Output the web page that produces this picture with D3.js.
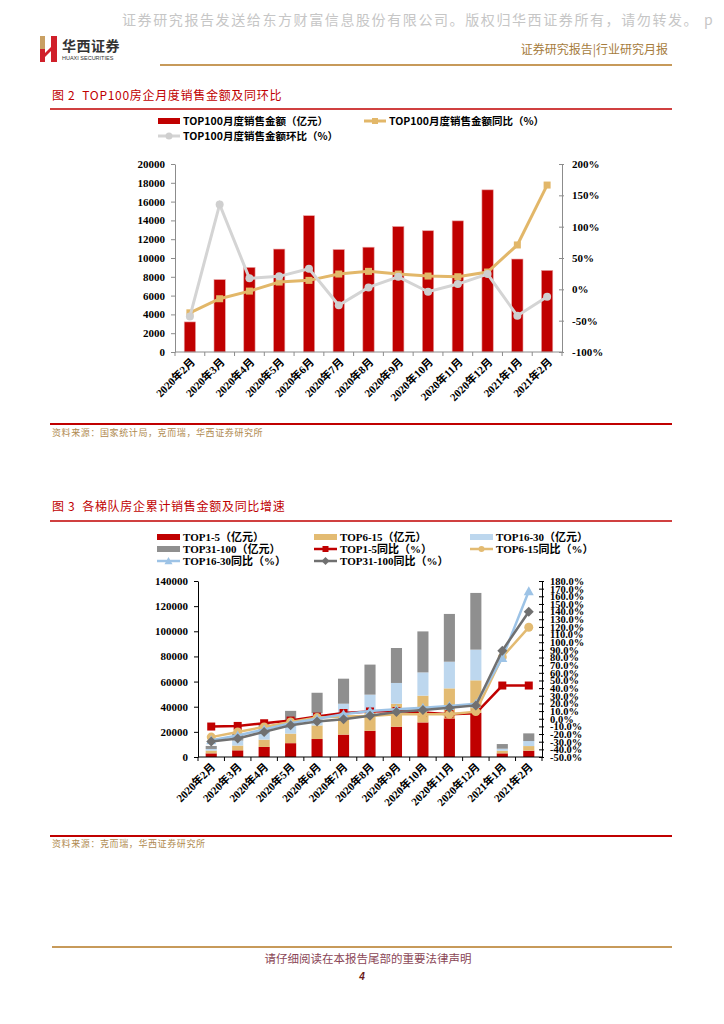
<!DOCTYPE html>
<html><head><meta charset="utf-8">
<script src="https://cdn.jsdelivr.net/npm/d3@7/dist/d3.min.js"></script>
<style>
body{margin:0;background:#fff;}
svg{display:block;}
</style></head>
<body>
<svg id="page" width="724" height="1024"></svg>
<script>
// ---------- data ----------
const months = ["2020年2月","2020年3月","2020年4月","2020年5月","2020年6月","2020年7月","2020年8月","2020年9月","2020年10月","2020年11月","2020年12月","2021年1月","2021年2月"];

// Figure 2
const top100Sales = [3200, 7700, 9000, 10950, 14500, 10900, 11150, 13350, 12900, 13950, 17250, 9890, 8680];
const top100Yoy   = [-37.5, -15, -2.8, 11.6, 14.3, 24.4, 28.7, 24.4, 21.2, 20.1, 27.6, 70.8, 166.4];
const top100Mom   = [-43.4, 135.4, 17.5, 20.7, 32.9, -25.3, 3, 20, -3.9, 8.4, 24.4, -42.3, -11.9];
const fig2LeftTicks  = [0,2000,4000,6000,8000,10000,12000,14000,16000,18000,20000];
const fig2RightTicks = [-100,-50,0,50,100,150,200];

// Figure 3
const top1_5    = [2900, 5300, 8000, 11000, 14300, 17800, 20800, 24100, 27500, 30700, 35200, 2900, 5000];
const top6_15   = [2200, 3800, 5800, 7600, 10800, 13500, 15800, 18300, 21300, 23900, 25800, 2100, 3700];
const top16_30  = [1300, 4000, 5700, 8400, 9900, 11100, 13000, 16500, 18500, 21200, 24400, 1600, 4000];
const top31_100 = [2400, 5500, 6500, 9700, 16100, 19900, 23900, 27800, 32600, 38000, 45100, 3700, 6100];
const yoy1_5    = [-10.2, -9.4, -5.9, -2.4, 2.8, 7.5, 9.5, 10, 8, 6, 7, 43.4, 43.4];
const yoy6_15   = [-24, -17.2, -10.7, -4.2, 1.5, 3, 3.6, 5.8, 5.8, 5.8, 9.3, 80.6, 119.5];
const yoy16_30  = [-28, -22, -14, -6, 0, 6, 10, 12.3, 14.5, 16.5, 19.6, 79.3, 166.5];
const yoy31_100 = [-29.6, -25.7, -17.2, -8.5, -3.7, -0.7, 4, 8.8, 11.4, 14.5, 17.4, 89, 139.8];
const fig3LeftTicks  = [0,20000,40000,60000,80000,100000,120000,140000];
const fig3RightTicks = d3.range(-50, 181, 10);

// ---------- styles ----------
const SERIF = '"Liberation Serif","Times New Roman","Noto Sans CJK SC",serif';
const CJK = '"Noto Sans CJK SC","Noto Sans",sans-serif';
const RED = "#c00000";

const svg = d3.select("#page");

// ---------- header ----------
svg.append("text").attr("x",122).attr("y",25)
  .attr("font-family",CJK).attr("font-size",14).attr("letter-spacing",1.6)
  .attr("fill","#c6c6c6")
  .text("证券研究报告发送给东方财富信息股份有限公司。版权归华西证券所有，请勿转发。 p");

const logo = svg.append("g");
logo.append("rect").attr("x",40).attr("y",36).attr("width",5).attr("height",13).attr("fill","#c9a063");
logo.append("rect").attr("x",40).attr("y",49).attr("width",5).attr("height",13).attr("fill","#d0202a");
logo.append("path").attr("d","M45,53 L52,46 L52,50 L45,57 Z").attr("fill","#d0202a");
logo.append("rect").attr("x",51).attr("y",36).attr("width",6).attr("height",26).attr("fill","#d0202a");
svg.append("text").attr("x",62).attr("y",51).attr("font-family",CJK).attr("font-weight","bold")
  .attr("font-size",14).attr("fill","#333").attr("letter-spacing",0.5).text("华西证券");
svg.append("text").attr("x",62).attr("y",60).attr("font-family","Liberation Sans, sans-serif")
  .attr("font-size",5.5).attr("fill","#333").text("HUAXI SECURITIES");

svg.append("text").attr("x",668).attr("y",54).attr("text-anchor","end")
  .attr("font-family",CJK).attr("font-size",12).attr("fill","#a67c3d")
  .text("证券研究报告|行业研究月报");
svg.append("line").attr("x1",160).attr("x2",672).attr("y1",65).attr("y2",65)
  .attr("stroke","#c79a5a").attr("stroke-width",2);

// ---------- figure titles and rules ----------
function title(y, txt){
  svg.append("text").attr("x",52).attr("y",y).attr("font-family",CJK).attr("font-size",12)
    .attr("letter-spacing",0.7).attr("fill",RED).text(txt);
}
function rule(y, color, w){
  svg.append("line").attr("x1",50).attr("x2",672).attr("y1",y).attr("y2",y)
    .attr("stroke",color).attr("stroke-width",w);
}
function source(y, txt){
  svg.append("text").attr("x",52).attr("y",y).attr("font-family",CJK).attr("font-size",9)
    .attr("letter-spacing",0.6).attr("fill","#b08a50").text(txt);
}
title(100, "图 2\u00a0\u00a0TOP100房企月度销售金额及同环比");
rule(109, RED, 1.5);
rule(424, RED, 2);
source(436, "资料来源：国家统计局，克而瑞，华西证券研究所");

title(511, "图 3\u00a0\u00a0各梯队房企累计销售金额及同比增速");
rule(521, RED, 1.5);
rule(836, RED, 2);
source(847, "资料来源：克而瑞，华西证券研究所");

// footer
svg.append("line").attr("x1",52).attr("x2",672).attr("y1",947).attr("y2",947)
  .attr("stroke","#c79a5a").attr("stroke-width",2);
svg.append("text").attr("x",368).attr("y",963).attr("text-anchor","middle")
  .attr("font-family",CJK).attr("font-size",11.5).attr("fill","#8a4656")
  .text("请仔细阅读在本报告尾部的重要法律声明");
svg.append("text").attr("x",362).attr("y",980).attr("text-anchor","middle")
  .attr("font-family","Liberation Sans, sans-serif").attr("font-size",10).attr("font-weight","bold")
  .attr("font-style","italic").attr("fill","#6b1a1a").text("4");

// ---------- helpers ----------
function styleAxis(g, color){
  g.selectAll(".domain").attr("stroke",color);
  g.selectAll(".tick line").attr("stroke",color);
  g.selectAll(".tick text").attr("font-family",SERIF).attr("font-weight","bold")
    .attr("font-size",11).attr("fill","#000");
}
function marker(g, type, cx, cy, size, color){
  if(type==="square"){
    g.append("rect").attr("x",cx-size/2).attr("y",cy-size/2).attr("width",size).attr("height",size).attr("fill",color);
  } else if(type==="circle"){
    g.append("circle").attr("cx",cx).attr("cy",cy).attr("r",size/2).attr("fill",color);
  } else if(type==="diamond"){
    const s=size/2+1;
    g.append("path").attr("d",`M${cx},${cy-s}L${cx+s},${cy}L${cx},${cy+s}L${cx-s},${cy}Z`).attr("fill",color);
  } else if(type==="triangle"){
    const s=size/2+1;
    g.append("path").attr("d",`M${cx},${cy-s}L${cx+s},${cy+s*0.8}L${cx-s},${cy+s*0.8}Z`).attr("fill",color);
  }
}

// ---------- Figure 2 ----------
(function(){
  const L=175, R=562, T=164, B=352;
  const g = svg.append("g");
  const x = d3.scaleBand().domain(months).range([L,R]).paddingInner(0.62).paddingOuter(0.31);
  const step = x.step(), bw = x.bandwidth();
  const cx = m => x(m)+bw/2;
  const y = d3.scaleLinear().domain([0,20000]).range([B,T]);
  const yr = d3.scaleLinear().domain([-100,200]).range([B,T]);

  g.selectAll("rect.bar").data(top100Sales).join("rect").attr("class","bar")
    .attr("x",(d,i)=>x(months[i])).attr("width",bw)
    .attr("y",d=>y(d)).attr("height",d=>B-y(d))
    .attr("fill",RED).attr("stroke","#e9a3a3").attr("stroke-width",0.6);

  const ax = g.append("g").attr("transform",`translate(${L},0)`)
    .call(d3.axisLeft(y).tickValues(fig2LeftTicks).tickFormat(d3.format("d")).tickSize(4).tickSizeOuter(0).tickPadding(6));
  styleAxis(ax,"#8c8c8c");
  const axr = g.append("g").attr("transform",`translate(${R},0)`)
    .call(d3.axisRight(yr).tickValues(fig2RightTicks).tickFormat(d=>d+"%").tickSize(4).tickSizeOuter(0).tickPadding(6));
  styleAxis(axr,"#8c8c8c");
  axr.selectAll(".tick line").attr("x1",-3).attr("x2",2);

  g.append("line").attr("x1",L).attr("x2",R).attr("y1",B).attr("y2",B).attr("stroke","#8c8c8c");
  g.selectAll("line.xt").data(d3.range(months.length+1)).join("line").attr("class","xt")
    .attr("x1",i=>L+i*step).attr("x2",i=>L+i*step).attr("y1",B).attr("y2",B+4).attr("stroke","#8c8c8c");
  g.selectAll("text.xl").data(months).join("text").attr("class","xl")
    .attr("transform",m=>`translate(${cx(m)+4},${B+9}) rotate(-45)`)
    .attr("text-anchor","end").attr("dominant-baseline","middle")
    .attr("font-family",SERIF).attr("font-weight","bold").attr("font-size",11).text(m=>m);

  const line = d3.line().x((d,i)=>cx(months[i])).y(d=>yr(d));
  g.append("path").datum(top100Yoy).attr("d",line).attr("fill","none").attr("stroke","#e2b769").attr("stroke-width",3);
  top100Yoy.forEach((d,i)=>marker(g,"square",cx(months[i]),yr(d),7,"#e2b769"));
  g.append("path").datum(top100Mom).attr("d",line).attr("fill","none").attr("stroke","#d4d4d4").attr("stroke-width",3);
  top100Mom.forEach((d,i)=>marker(g,"circle",cx(months[i]),yr(d),8,"#cfcfcf"));

  const lg = svg.append("g").attr("font-family",CJK).attr("font-weight","bold").attr("font-size",10.5);
  lg.append("rect").attr("x",158).attr("y",118).attr("width",22).attr("height",6).attr("fill",RED);
  lg.append("text").attr("x",183).attr("y",125).text("TOP100月度销售金额（亿元）");
  lg.append("line").attr("x1",364).attr("x2",386).attr("y1",121).attr("y2",121).attr("stroke","#e2b769").attr("stroke-width",3);
  marker(lg,"square",375,121,6,"#e2b769");
  lg.append("text").attr("x",389).attr("y",125).text("TOP100月度销售金额同比（%）");
  lg.append("line").attr("x1",158).attr("x2",180).attr("y1",136).attr("y2",136).attr("stroke","#d4d4d4").attr("stroke-width",3);
  marker(lg,"circle",169,136,7,"#cfcfcf");
  lg.append("text").attr("x",183).attr("y",140).text("TOP100月度销售金额环比（%）");
})();

// ---------- Figure 3 ----------
(function(){
  const L=198, R=542, T=581, B=757;
  const g = svg.append("g");
  const x = d3.scaleBand().domain(months).range([L,R]).paddingInner(0.58).paddingOuter(0.29);
  const step = x.step(), bw = x.bandwidth();
  const cx = m => x(m)+bw/2;
  const y = d3.scaleLinear().domain([0,140000]).range([B,T]);
  const yr = d3.scaleLinear().domain([-50,180]).range([B,T]);

  const keys = ["t1","t2","t3","t4"];
  const colors = {t1:RED, t2:"#e3bb72", t3:"#bdd7ee", t4:"#8f8f8f"};
  const table = months.map((m,i)=>({m, t1:top1_5[i], t2:top6_15[i], t3:top16_30[i], t4:top31_100[i]}));
  const stacked = d3.stack().keys(keys)(table);
  stacked.forEach(s=>{
    g.selectAll(null).data(s).join("rect")
      .attr("x",d=>x(d.data.m)).attr("width",bw)
      .attr("y",d=>y(d[1])).attr("height",d=>y(d[0])-y(d[1]))
      .attr("fill",colors[s.key]);
  });

  const ax = g.append("g").attr("transform",`translate(${L},0)`)
    .call(d3.axisLeft(y).tickValues(fig3LeftTicks).tickFormat(d3.format("d")).tickSize(4).tickSizeOuter(0).tickPadding(6));
  styleAxis(ax,"#000");
  const axr = g.append("g").attr("transform",`translate(${R},0)`)
    .call(d3.axisRight(yr).tickValues(fig3RightTicks).tickFormat(d=>d.toFixed(1)+"%").tickSize(3).tickSizeOuter(0).tickPadding(5));
  styleAxis(axr,"#000");
  axr.selectAll(".tick line").attr("x1",-3).attr("x2",2);
  axr.selectAll(".tick text").attr("font-size",10.5);

  g.append("line").attr("x1",L).attr("x2",R).attr("y1",B).attr("y2",B).attr("stroke","#000");
  g.selectAll("line.xt").data(d3.range(months.length+1)).join("line").attr("class","xt")
    .attr("x1",i=>L+i*step).attr("x2",i=>L+i*step).attr("y1",B).attr("y2",B+4).attr("stroke","#000");
  g.selectAll("text.xl").data(months).join("text").attr("class","xl")
    .attr("transform",m=>`translate(${cx(m)+3},${B+9}) rotate(-45)`)
    .attr("text-anchor","end").attr("dominant-baseline","middle")
    .attr("font-family",SERIF).attr("font-weight","bold").attr("font-size",11).text(m=>m);

  const line = d3.line().x((d,i)=>cx(months[i])).y(d=>yr(d));
  const series = [
    {data:yoy1_5, color:RED, m:"square", s:8},
    {data:yoy6_15, color:"#e3bb72", m:"circle", s:9},
    {data:yoy16_30, color:"#9dc3e6", m:"triangle", s:8},
    {data:yoy31_100, color:"#707070", m:"diamond", s:8}
  ];
  series.forEach(sr=>{
    g.append("path").datum(sr.data).attr("d",line).attr("fill","none").attr("stroke",sr.color).attr("stroke-width",2.5);
    sr.data.forEach((d,i)=>marker(g,sr.m,cx(months[i]),yr(d),sr.s,sr.color));
  });

  const lg = svg.append("g").attr("font-family",SERIF).attr("font-weight","bold").attr("font-size",11);
  const cols=[157,314,470], rows=[537,549,561];
  const items=[
    {t:"TOP1-5（亿元）", type:"rect", c:RED},
    {t:"TOP6-15（亿元）", type:"rect", c:"#e3bb72"},
    {t:"TOP16-30（亿元）", type:"rect", c:"#bdd7ee"},
    {t:"TOP31-100（亿元）", type:"rect", c:"#8f8f8f"},
    {t:"TOP1-5同比（%）", type:"square", c:RED},
    {t:"TOP6-15同比（%）", type:"circle", c:"#e3bb72"},
    {t:"TOP16-30同比（%）", type:"triangle", c:"#9dc3e6"},
    {t:"TOP31-100同比（%）", type:"diamond", c:"#707070"}
  ];
  items.forEach((it,k)=>{
    const xx=cols[k%3], yy=rows[Math.floor(k/3)];
    if(it.type==="rect"){
      lg.append("rect").attr("x",xx).attr("y",yy-3).attr("width",23).attr("height",6).attr("fill",it.c);
    } else {
      lg.append("line").attr("x1",xx).attr("x2",xx+23).attr("y1",yy).attr("y2",yy).attr("stroke",it.c).attr("stroke-width",2.5);
      marker(lg,it.type,xx+11.5,yy,6,it.c);
    }
    lg.append("text").attr("x",xx+26).attr("y",yy+4).text(it.t);
  });
})();
</script>
</body></html>
